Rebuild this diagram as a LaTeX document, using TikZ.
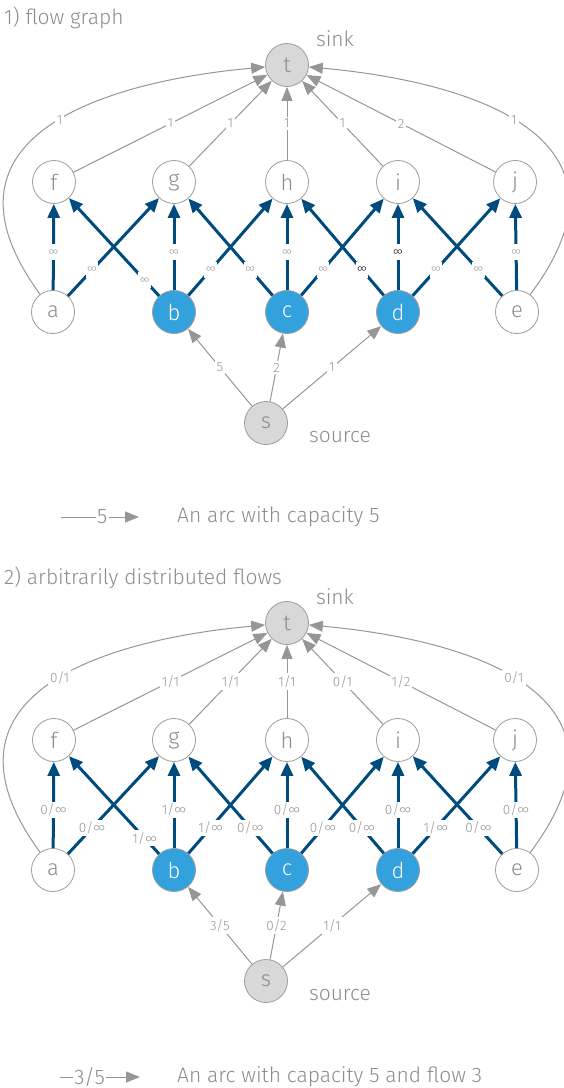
\documentclass[tikz,border=0pt]{standalone}
\usepackage{fontspec}
\setmainfont{Fira Sans}[UprightFont={* Light}]
\usetikzlibrary{arrows.meta}
\definecolor{gline}{RGB}{150,150,150}
\definecolor{txtgray}{RGB}{140,140,140}
\definecolor{nborder}{RGB}{155,155,155}
\definecolor{lightfill}{RGB}{216,216,216}
\definecolor{bluefill}{RGB}{51,161,222}
\definecolor{darkblue}{RGB}{0,75,125}
\tikzset{
  vnode/.style={circle, draw=nborder, line width=0.8pt, fill=white, minimum size=43pt, inner sep=0pt,
    font=\fontsize{22}{22}\selectfont, text=txtgray},
  tnode/.style={vnode, fill=lightfill},
  bnode/.style={vnode, fill=bluefill, text=white},
  sidetext/.style={font=\fontsize{21}{21}\selectfont, text=txtgray, inner sep=0pt},
  gedge/.style={draw=gline, line width=1pt, -{Triangle[length=14pt,width=11pt]}},
  bedge/.style={draw=darkblue, line width=3pt, -{Triangle[length=14pt,width=12pt]}},
  lab/.style={fill=white, inner sep=2pt, font=\fontsize{13.5}{13.5}\selectfont, text=gline},
  ilab/.style={fill=white, inner sep=1.5pt, minimum height=16pt, font=\fontsize{13.5}{13.5}\selectfont, text=gline},
}
\newcommand\graphbody{%
  \node[tnode] (t) at (287,65) {t};
  \node[vnode] (f) at (54,182) {f};
  \node[vnode] (g) at (174,182) {g};
  \node[vnode] (h) at (287,182) {h};
  \node[vnode] (i) at (398,182) {i};
  \node[vnode] (j) at (515,182) {j};
  \node[vnode] (a) at (53,312) {a};
  \node[bnode] (b) at (174,312) {b};
  \node[bnode] (c) at (287,312) {c};
  \node[bnode] (d) at (398,312) {d};
  \node[vnode] (e) at (517,312) {e};
  \node[tnode] (s) at (266,423) {s};
  \node[sidetext] (sink) at (335,39) {sink};
  \node[sidetext] (source) at (340,437) {source};
  % gray arcs to the sink
  \draw[gedge] (f) -- node[lab]{\lbFT} (t);
  \draw[gedge] (g) -- node[lab]{\lbGT} (t);
  \draw[gedge] (h) -- node[lab]{\lbHT} (t);
  \draw[gedge] (i) -- node[lab]{\lbIT} (t);
  \draw[gedge] (j) -- node[lab]{\lbJT} (t);
  \draw[gedge] (a) .. controls (-80,130) and (120,80) .. node[lab,pos=0.52]{\lbAT} (t);
  \draw[gedge] (e) .. controls (654,130) and (454,80) .. node[lab,pos=0.52]{\lbET} (t);
  % source arcs
  \draw[gedge] (s) -- node[lab]{\lbSB} (b);
  \draw[gedge] (s) -- node[lab]{\lbSC} (c);
  \draw[gedge] (s) -- node[lab]{\lbSD} (d);
  % infinite capacity arcs
  \draw[bedge] (a) -- node[ilab,pos=0.44]{\lbAF} (f);
  \draw[bedge] (a) -- node[ilab,pos=0.265]{\lbAG} (g);
  \draw[bedge] (b) -- node[ilab,pos=0.16]{\lbBF} (f);
  \draw[bedge] (b) -- node[ilab,pos=0.44]{\lbBG} (g);
  \draw[bedge] (b) -- node[ilab,pos=0.265]{\lbBH} (h);
  \draw[bedge] (c) -- node[ilab,pos=0.265]{\lbCG} (g);
  \draw[bedge] (c) -- node[ilab,pos=0.44]{\lbCH} (h);
  \draw[bedge] (c) -- node[ilab,pos=0.265]{\lbCI} (i);
  \draw[bedge] (d) -- node[ilab,pos=0.265]{\lbDH} (h);
  \draw[bedge] (d) -- node[ilab,pos=0.44]{\lbDI} (i);
  \draw[bedge] (d) -- node[ilab,pos=0.265]{\lbDJ} (j);
  \draw[bedge] (e) -- node[ilab,pos=0.265]{\lbEI} (i);
  \draw[bedge] (e) -- node[ilab,pos=0.44]{\lbEJ} (j);
}
\begin{document}
\begin{tikzpicture}[x=1pt,y=-1pt]
\useasboundingbox (0,0) rectangle (563,1088);
% ---------- part 1
\node[sidetext, anchor=west] (title1) at (4,18) {1) flow graph};
\begin{scope}[name prefix=A-]
  \def\lbFT{1}\def\lbGT{1}\def\lbHT{1}\def\lbIT{1}\def\lbJT{2}\def\lbAT{1}\def\lbET{1}%
  \def\lbSB{5}\def\lbSC{2}\def\lbSD{1}%
  \def\inf{{\fontsize{11}{11}\selectfont ∞}}%
  \def\infk{{\fontsize{11}{11}\selectfont\color{black}∞}}%
  \def\lbAF{\inf}\def\lbAG{\inf}\def\lbBF{\inf}\def\lbBG{\inf}\def\lbBH{\inf}%
  \def\lbCG{\inf}\def\lbCH{\inf}\def\lbCI{\inf}\def\lbDH{\infk}\def\lbDI{\infk}%
  \def\lbDJ{\inf}\def\lbEI{\inf}\def\lbEJ{\inf}%
  \graphbody
  \coordinate (lgs) at (61,517);
  \coordinate (lge) at (139,517);
  \draw[gedge] (lgs) -- node[lab, inner sep=1.5pt, pos=0.53, font=\fontsize{21}{21}\selectfont, text=txtgray]{5} (lge);
  \node[sidetext, anchor=west] (lgtext) at (177,517) {An arc with capacity 5};
\end{scope}
% ---------- part 2
\node[sidetext, anchor=west] (title2) at (4,578) {2) arbitrarily distributed flows};
\begin{scope}[name prefix=B-, yshift=-558pt]
  \def\lbFT{1/1}\def\lbGT{1/1}\def\lbHT{1/1}\def\lbIT{0/1}\def\lbJT{1/2}\def\lbAT{0/1}\def\lbET{0/1}%
  \def\lbSB{3/5}\def\lbSC{0/2}\def\lbSD{1/1}%
  \def\lbAF{0/∞}\def\lbAG{0/∞}\def\lbBF{1/∞}\def\lbBG{1/∞}\def\lbBH{1/∞}%
  \def\lbCG{0/∞}\def\lbCH{0/∞}\def\lbCI{0/∞}\def\lbDH{0/∞}\def\lbDI{0/∞}%
  \def\lbDJ{1/∞}\def\lbEI{0/∞}\def\lbEJ{0/∞}%
  \graphbody
  \coordinate (lgs) at (60,519);
  \coordinate (lge) at (140,519);
  \draw[gedge] (lgs) -- node[lab, inner sep=1.5pt, pos=0.37, font=\fontsize{21}{21}\selectfont, text=txtgray]{3/5} (lge);
  \node[sidetext, anchor=west] (lgtext) at (177,519) {An arc with capacity 5 and flow 3};
\end{scope}
\end{tikzpicture}
\end{document}
